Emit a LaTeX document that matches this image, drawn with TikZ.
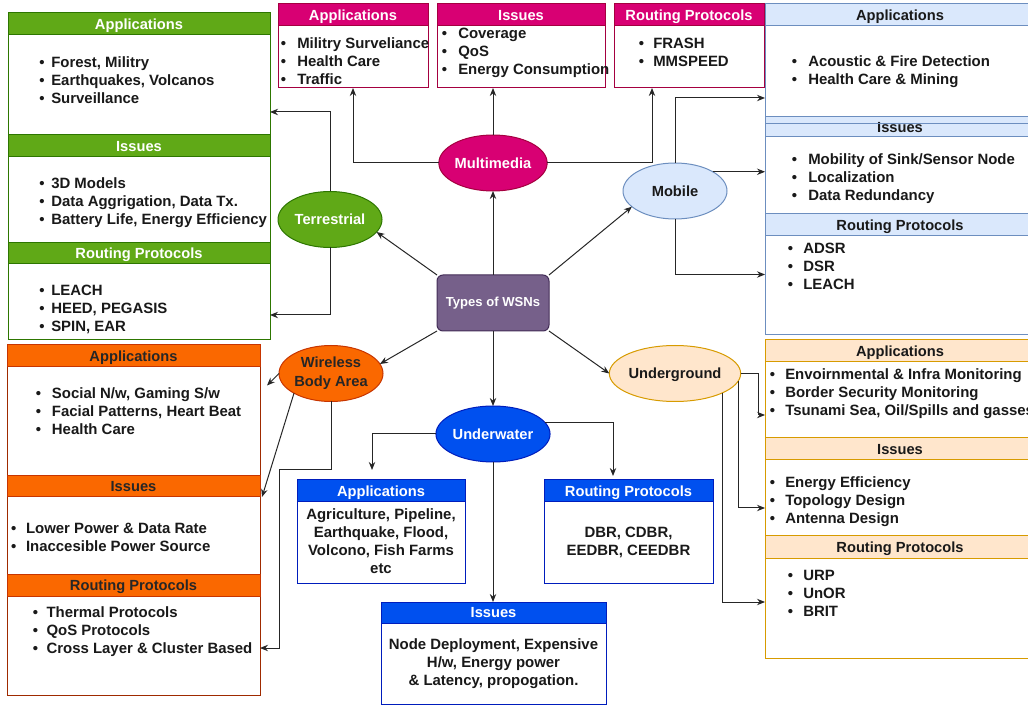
\documentclass[tikz,border=0pt]{standalone}
\usepackage{fontspec}
\setmainfont{Liberation Sans}
\usetikzlibrary{shapes.geometric,arrows.meta,calc}
\newdimen\pxu \pxu=0.75pt
\definecolor{grn}{HTML}{60A917}\definecolor{grnD}{HTML}{2D7600}
\definecolor{mag}{HTML}{D80073}\definecolor{magD}{HTML}{A50040}
\definecolor{org}{HTML}{FA6800}\definecolor{orgD}{HTML}{C73500}
\definecolor{blu}{HTML}{0050EF}\definecolor{bluD}{HTML}{001DBC}
\definecolor{lbl}{HTML}{DAE8FC}\definecolor{lblD}{HTML}{6C8EBF}
\definecolor{lor}{HTML}{FFE6CC}\definecolor{lorD}{HTML}{D79B00}
\definecolor{pur}{HTML}{76608A}\definecolor{purD}{HTML}{432D57}
\newcommand\itm[2][12]{\strut\makebox[#1\pxu][l]{\textbullet}#2}
\newcommand\itemfont{\fontsize{11.2}{13.5}\selectfont\bfseries}
\newcommand\hdrfont{\fontsize{11}{13}\selectfont\bfseries}
\newcommand\ellfont{\fontsize{11}{14.25}\selectfont\bfseries}
\newcommand\typfont{\fontsize{9.8}{12}\selectfont\bfseries}
% name, family, x1, y1, x2, yheader, y2, title
\newcommand\swimsec[8]{%
  \pgfmathsetmacro\sw{(#5-#3)*0.75}%
  \pgfmathsetmacro\sh{(#7-#4)*0.75}%
  \pgfmathsetmacro\hh{(#6-#4)*0.75}%
  \node[#2B, minimum width=\sw pt, minimum height=\sh pt, anchor=north west] (#1) at (#3,#4) {};
  \node[#2H, minimum width=\sw pt, minimum height=\hh pt, anchor=north west] (#1h) at (#3,#4) {#8};
}
\tikzset{
  box/.style={rectangle, inner sep=0pt, outer sep=0pt, line width=0.75pt},
  hdr/.style={box, font=\hdrfont, text height=7.9pt, text depth=0pt},
  grnB/.style={box, draw=grnD, fill=white},
  grnH/.style={hdr, draw=grnD, fill=grn, text=white},
  magB/.style={box, draw=magD, fill=white},
  magH/.style={hdr, draw=magD, fill=mag, text=white},
  lblB/.style={box, draw=lblD, fill=white},
  lblH/.style={hdr, draw=lblD, fill=lbl, text=black!90},
  orgB/.style={box, draw=orgD!80!black, fill=white},
  orgH/.style={hdr, draw=orgD, fill=org, text=black!85},
  bluB/.style={box, draw=bluD, fill=white},
  bluH/.style={hdr, draw=bluD, fill=blu, text=white},
  lorB/.style={box, draw=lorD, fill=white},
  lorH/.style={hdr, draw=lorD, fill=lor, text=black!90},
  lst/.style={anchor=west, inner sep=0pt, align=left, font=\itemfont, text=black!90},
  ctr/.style={inner sep=0pt, align=center, font=\itemfont, text=black!90},
  ell/.style={ellipse, inner sep=0pt, outer sep=0pt, line width=0.75pt,
    minimum width=78pt, minimum height=42pt, font=\ellfont, align=center},
  ell1/.style={ell, text height=7.9pt, text depth=0pt},
  arr/.style={draw=black!85, line width=0.75pt, -{Stealth[length=6pt,width=4.8pt]}},
}
\begin{document}
\begin{tikzpicture}[x=0.75pt,y=-0.75pt]
\useasboundingbox (0,0) rectangle (1028,705);
\clip (0,0) rectangle (1028,705);

% ---------- boxes ----------
\swimsec{tApp}{grn}{8}{13}{270}{35}{135}{Applications}
\swimsec{tIss}{grn}{8}{135}{270}{157}{243}{Issues}
\swimsec{tRout}{grn}{8}{243}{270}{264}{340}{Routing Protocols}
\swimsec{mApp}{mag}{278}{4}{428}{26}{88}{Applications}
\swimsec{mIss}{mag}{437}{4}{605}{26}{88}{Issues}
\swimsec{mRout}{mag}{614}{4}{764}{26}{88}{Routing Protocols}
\swimsec{bApp}{lbl}{765}{4}{1035}{26}{117}{Applications}
\swimsec{bIss}{lbl}{765}{117}{1035}{137}{214}{Issues}
\swimsec{bRout}{lbl}{765}{214}{1035}{236}{335}{Routing Protocols}
\draw[lblD, line width=0.75pt] (bIss.north west) ++(0,7) coordinate (bx) -- (bx -| bIss.east);
\swimsec{oApp}{org}{7}{345}{260}{367}{476}{Applications}
\swimsec{oIss}{org}{7}{476}{260}{497}{574}{Issues}
\swimsec{oRout}{org}{7}{574}{260}{596}{695}{Routing Protocols}
\swimsec{uApp}{blu}{297}{480}{465}{502}{583}{Applications}
\swimsec{uRout}{blu}{544}{480}{713}{502}{583}{Routing Protocols}
\swimsec{uIss}{blu}{381}{602}{606}{623}{704}{Issues}
\swimsec{gApp}{lor}{765}{340}{1035}{362}{438}{Applications}
\swimsec{gIss}{lor}{765}{438}{1035}{460}{536}{Issues}
\swimsec{gRout}{lor}{765}{536}{1035}{558}{658}{Routing Protocols}

% ---------- lists ----------
\node[lst] (tAppL) at (39,82) {\itm{Forest, Militry}\\\itm{Earthquakes, Volcanos}\\\itm{Surveillance}};
\node[lst] (tIssL) at (39,203) {\itm{3D Models}\\\itm{Data Aggrigation, Data Tx.}\\\itm{Battery Life, Energy Efficiency}};
\node[lst] (tRoutL) at (39,310) {\itm{LEACH}\\\itm{HEED, PEGASIS}\\\itm{SPIN, EAR}};

\node[lst] (mAppL) at (280.5,63) {\itm[16.5]{Militry Surveliance}\\\itm[16.5]{Health Care}\\\itm[16.5]{Traffic}};
\node[lst] (mIssL) at (441.5,53) {\itm[16.5]{Coverage}\\\itm[16.5]{QoS}\\\itm[16.5]{Energy Consumption}};
\node[lst] (mRoutL) at (638.5,53.5) {\itm[14.5]{FRASH}\\\itm[14.5]{MMSPEED}};

\node[lst] (bAppL) at (791.5,72) {\itm[16.5]{Acoustic \& Fire Detection}\\\itm[16.5]{Health Care \& Mining}};
\node[lst] (bIssL) at (791.5,179) {\itm[16.5]{Mobility of Sink/Sensor Node}\\\itm[16.5]{Localization}\\\itm[16.5]{Data Redundancy}};
\node[lst] (bRoutL) at (787.5,268) {\itm[15.5]{ADSR}\\\itm[15.5]{DSR}\\\itm[15.5]{LEACH}};

\node[lst] (oAppL) at (35.7,413) {\itm[16]{Social N/w, Gaming S/w}\\\itm[16]{Facial Patterns, Heart Beat}\\\itm[16]{Health Care}};
\node[lst] (oIssL) at (10.8,538.5) {\itm[15]{Lower Power \& Data Rate}\\\itm[15]{Inaccesible Power Source}};
\node[lst] (oRoutL) at (32.5,632) {\itm[13.8]{Thermal Protocols}\\\itm[13.8]{QoS Protocols}\\\itm[13.8]{Cross Layer \& Cluster Based}};

\node[ctr] (uAppL) at (381,543) {\strut Agriculture, Pipeline,\\\strut Earthquake, Flood,\\\strut Volcono, Fish Farms\\\strut etc};
\node[ctr] (uRoutL) at (628.5,543) {\strut DBR, CDBR,\\\strut EEDBR, CEEDBR};
\node[ctr] (uIssL) at (493.5,664) {\strut Node Deployment, Expensive\\\strut H/w, Energy power\\\strut \& Latency, propogation.};

\node[lst] (gAppL) at (769.5,394) {\itm[15.5]{Envoirnmental \& Infra Monitoring}\\\itm[15.5]{Border Security Monitoring}\\\itm[15.5]{Tsunami Sea, Oil/Spills and gasses}};
\node[lst] (gIssL) at (769.5,502) {\itm[15.5]{Energy Efficiency}\\\itm[15.5]{Topology Design}\\\itm[15.5]{Antenna Design}};
\node[lst] (gRoutL) at (787.5,595) {\itm[15.5]{URP}\\\itm[15.5]{UnOR}\\\itm[15.5]{BRIT}};

% ---------- central nodes ----------
\node[rectangle, rounded corners=4.5pt, fill=pur, draw=purD, line width=0.75pt,
      minimum width=84pt, minimum height=42pt, inner sep=0pt, outer sep=0pt,
      text=white, font=\typfont] (types) at (493,303) {Types of WSNs};
\node[ell1, fill=mag, draw=magD, text=white] (multi) at (493,163) {Multimedia};
\node[ell1, fill=grn, draw=grnD, text=white] (terr) at (330,219.5) {Terrestrial};
\node[ell1, fill=lbl, draw=lblD, text=black!90] (mob) at (675,191) {Mobile};
\node[ell, fill=org, draw=orgD, text=black!85] (wba) at (331,373.5) {Wireless\\Body Area};
\node[ell1, fill=blu, draw=bluD, text=white] (under) at (493,434) {Underwater};
\node[ell1, fill=lor, draw=lorD, text=black!90] (ug) at (675,373.5) {Underground};

% ---------- connectors ----------
\draw[arr] (types.north) -- (multi.south);
\draw[arr] (types.north west) -- (terr.-15);
\draw[arr] (types.north east) -- (mob.200);
\draw[arr] (types.south west) -- (wba.11);
\draw[arr] (types.south) -- (under.north);
\draw[arr] (types.south east) -- (ug.west);

\draw[arr] (multi.west) -| (mApp.south);
\draw[arr] (multi.north) -- (multi.north |- mIss.south);
\draw[arr] (multi.east) -| ($(mRout.south west)+(38,0)$);

\draw[arr] (mob.north) |- ($(bApp.south west)+(0,-19)$);
\draw[arr] (mob.27) -- (mob.27 -| bIss.west);
\draw[arr] (mob.south) |- (bRout.west);

\draw[arr] (terr.north) |- ($(tApp.south east)+(0,-23)$);
\draw[arr] (terr.south) |- ($(tRout.south east)+(0,-25)$);

\draw[arr] (wba.west) -- ($(oApp.east)+(7,-25)$);
\draw[arr] (wba.208) -- ($(oIss.north east)+(2,21)$);
\draw[arr] (wba.south) |- ++(-52,68) |- ($(oRout.east)+(0,13.5)$);

\draw[arr] (under.west) -| ($(uApp.north)+(-9,-10)$);
\draw[arr] (under.12) -| ($(uRout.north)+(-15.5,-4)$);
\draw[arr] (under.south) -- (under.south |- uIss.north);

\draw[arr] (ug.east) -- ++(18,0) |- ($(gApp.west)+(0,26)$);
\draw[arr] (ug.-7) |- ($(gIss.west)+(0,21)$);
\draw[arr] (ug.-22) |- ($(gRout.west)+(0,5)$);
\end{tikzpicture}
\end{document}
